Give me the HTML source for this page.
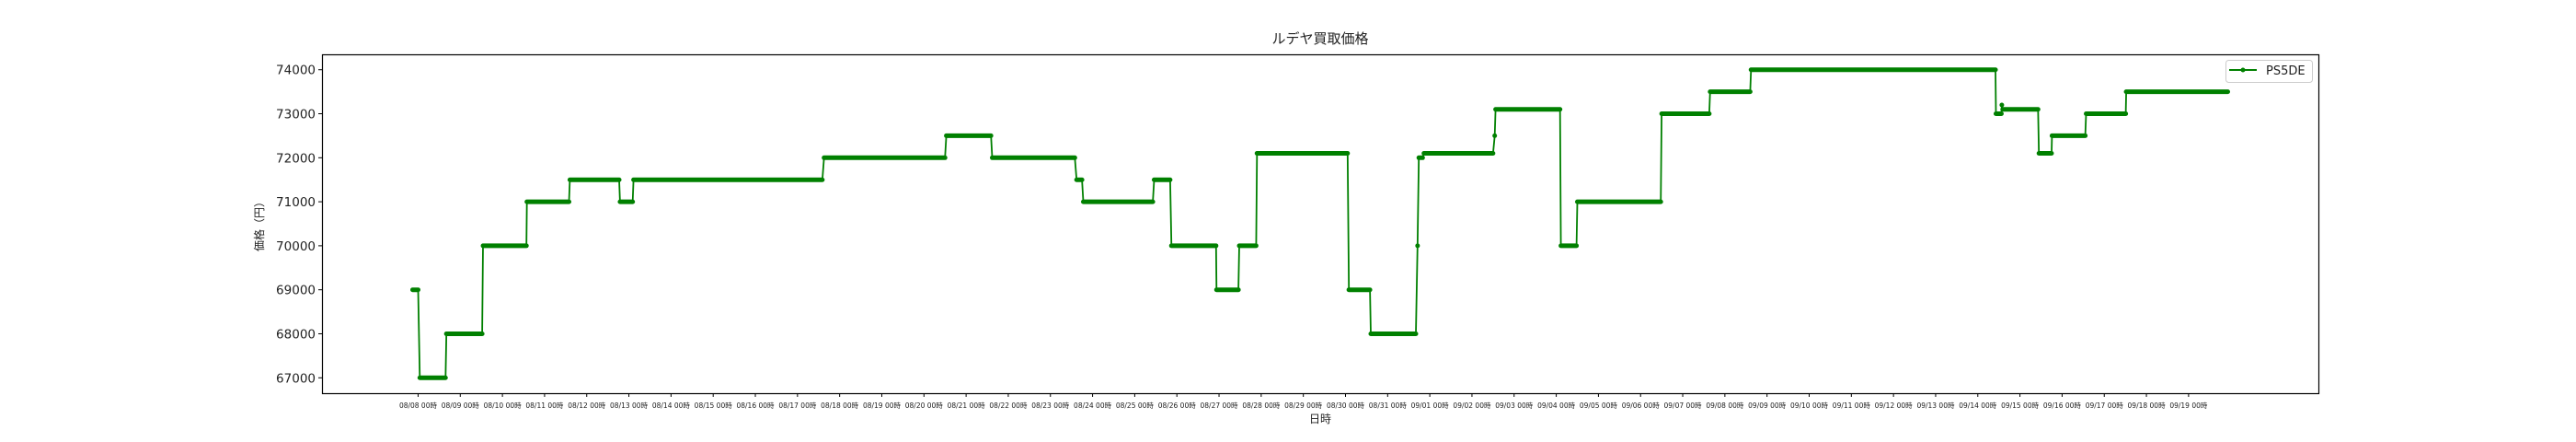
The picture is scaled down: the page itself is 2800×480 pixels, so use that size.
<!DOCTYPE html>
<html><head><meta charset="utf-8"><style>
html,body{margin:0;padding:0;background:#fff}
svg{display:block}
text{font-family:"DejaVu Sans","Liberation Sans","Noto Sans CJK JP",sans-serif;fill:#222}
</style></head><body>
<svg id="chart" width="2800" height="480" viewBox="0 0 2800 480" xmlns="http://www.w3.org/2000/svg">
<rect x="0" y="0" width="2800" height="480" fill="#fff"/>
<text x="1435" y="47" text-anchor="middle" font-size="15">ルデヤ買取価格</text>
<g id="marks"></g>
<g id="axes"></g>
<rect x="350.5" y="59.5" width="2170" height="368" fill="none" stroke="#000" stroke-width="1.2"/>
<text x="1435" y="459" text-anchor="middle" font-size="12">日時</text>
<text transform="translate(286,243) rotate(-90)" text-anchor="middle" font-size="12">価格（円）</text>
<g>
<rect x="2419.5" y="65.5" width="94" height="24" rx="3" fill="#fff" stroke="#ccc"/>
<line x1="2423" y1="76" x2="2453" y2="76" stroke="#008000" stroke-width="2"/>
<circle cx="2438" cy="76" r="2.5" fill="#008000"/>
<text x="2463" y="81" font-size="13">PS5DE</text>
</g>
</svg>
<script>
// segment data (days since 08/08 00:00), price values
const segStart = [-0.13,0.04,0.67,1.54,2.58,3.60,4.79,5.11,9.63,12.53,13.62,15.62,15.78,17.46,17.87,18.94,19.48,19.90,22.08,22.60,23.71,23.74,23.86,25.54,25.56,27.11,27.50,29.50,30.65,31.62,37.43,37.57,37.59,38.45,38.76,39.57,40.52];
const segEnd   = [0.00,0.65,1.52,2.57,3.58,4.77,5.09,9.59,12.50,13.59,15.58,15.75,17.43,17.84,18.93,19.46,19.88,22.05,22.58,23.67,23.71,23.83,25.50,25.54,27.09,27.48,29.48,30.63,31.60,37.42,37.56,37.57,38.43,38.75,39.55,40.51,42.93];
const segValue = [69000,67000,68000,70000,71000,71500,71000,71500,72000,72500,72000,71500,71000,71500,70000,69000,70000,72100,69000,68000,70000,72000,72100,72500,73100,70000,71000,73000,73500,74000,73000,73200,73100,72100,72500,73000,73500];
const yTicks = [67000,68000,69000,70000,71000,72000,73000,74000];
const xTickLabels = ["08/08","08/09","08/10","08/11","08/12","08/13","08/14","08/15","08/16","08/17","08/18","08/19","08/20","08/21","08/22","08/23","08/24","08/25","08/26","08/27","08/28","08/29","08/30","08/31","09/01","09/02","09/03","09/04","09/05","09/06","09/07","09/08","09/09","09/10","09/11","09/12","09/13","09/14","09/15","09/16","09/17","09/18","09/19"];

const NS = "http://www.w3.org/2000/svg";
const X0 = 350, X1 = 2520, Y0 = 427, Y1 = 59;
const dMin = -2.28, dMax = 45.08, vMin = 66650, vMax = 74350;
function xs(d){ return X0 + (d - dMin) / (dMax - dMin) * (X1 - X0); }
function ys(v){ return Y0 - (v - vMin) / (vMax - vMin) * (Y0 - Y1); }
function mk(tag, attrs){ const e = document.createElementNS(NS, tag); for (const k in attrs) e.setAttribute(k, attrs[k]); return e; }

const marks = document.getElementById('marks');
const axes = document.getElementById('axes');

// connecting line
let pts = [];
for (let i = 0; i < segValue.length; i++) {
  pts.push(xs(segStart[i]).toFixed(1) + ',' + ys(segValue[i]).toFixed(1));
  pts.push(xs(segEnd[i]).toFixed(1) + ',' + ys(segValue[i]).toFixed(1));
}
const line = mk('polyline', {points: pts.join(' '), fill: 'none', stroke: '#008000', 'stroke-width': 1.8, 'stroke-linejoin': 'round'});


marks.appendChild(line);

// marker runs
for (let i = 0; i < segValue.length; i++) {
  const y = ys(segValue[i]);
  const seg = mk('line', {x1: xs(segStart[i]), y1: y, x2: xs(segEnd[i]), y2: y, stroke: '#008000', 'stroke-width': 5, 'stroke-linecap': 'round'});
  
  
  marks.appendChild(seg);
}

// y ticks
yTicks.forEach(v => {
  const y = ys(v);
  const t = mk('line', {x1: 346, y1: y, x2: 350, y2: y, stroke: '#000', 'stroke-width': 1});
  
  
  axes.appendChild(t);
  const l = mk('text', {x: 343, y: y + 5, 'text-anchor': 'end', 'font-size': 13.5});
  l.textContent = String(v);
  
  
  axes.appendChild(l);
});

// x ticks
xTickLabels.forEach((s, i) => {
  const x = xs(i);
  const t = mk('line', {x1: x, y1: 427, x2: x, y2: 431, stroke: '#000', 'stroke-width': 1});
  
  
  axes.appendChild(t);
  const l = mk('text', {x: x, y: 443, 'text-anchor': 'middle', 'font-size': 7.5});
  l.textContent = s + ' 00時';
  
  
  axes.appendChild(l);
});
</script>
</body></html>
